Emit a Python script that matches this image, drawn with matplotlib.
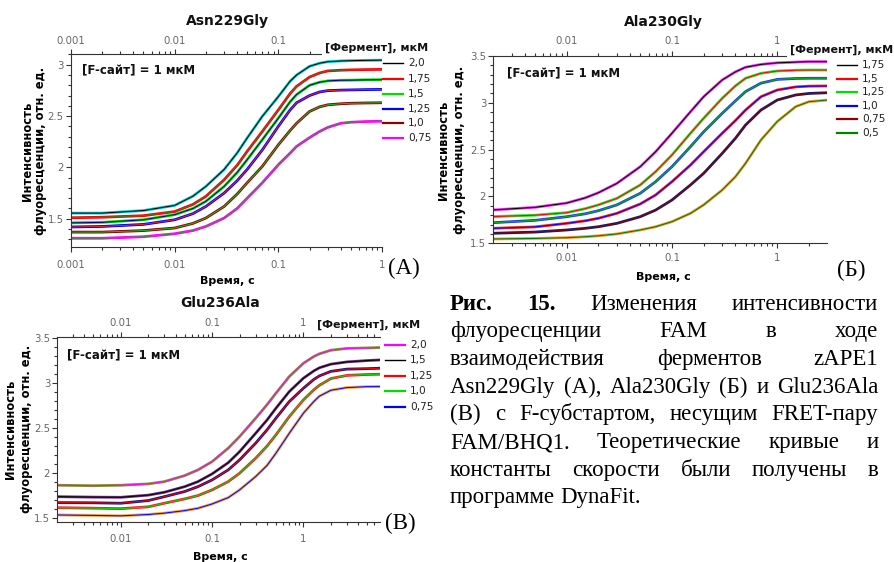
import numpy as np
import matplotlib
matplotlib.use("Agg")
import matplotlib.pyplot as plt
from matplotlib.lines import Line2D
from matplotlib.ticker import (FuncFormatter, MultipleLocator, NullFormatter,
                               LogLocator, FixedLocator)

# ---- panel A: Asn229Gly ----
t_a = [0.001, 0.002, 0.005, 0.01, 0.015, 0.02, 0.03, 0.04, 0.05, 0.07, 0.1,
       0.13, 0.15, 0.2, 0.25, 0.3, 0.4, 0.5, 0.7, 1.0]
a_20 = [1.555, 1.555, 1.58, 1.63, 1.72, 1.815, 1.98, 2.14, 2.286, 2.497, 2.69,
        2.84, 2.90, 2.985, 3.015, 3.03, 3.037, 3.04, 3.043, 3.045]
a_175 = [1.51, 1.515, 1.53, 1.57, 1.64, 1.718, 1.88, 2.02, 2.156, 2.35, 2.56,
         2.72, 2.79, 2.88, 2.92, 2.94, 2.947, 2.95, 2.953, 2.955]
a_15 = [1.46, 1.465, 1.49, 1.54, 1.60, 1.67, 1.815, 1.95, 2.075, 2.27, 2.48,
        2.64, 2.71, 2.80, 2.83, 2.843, 2.849, 2.85, 2.853, 2.855]
a_125 = [1.42, 1.425, 1.445, 1.49, 1.55, 1.62, 1.75, 1.87, 1.98, 2.17, 2.40,
         2.56, 2.63, 2.70, 2.735, 2.748, 2.753, 2.755, 2.758, 2.76]
a_10 = [1.37, 1.37, 1.385, 1.41, 1.455, 1.507, 1.62, 1.74, 1.85, 2.01, 2.22,
        2.36, 2.43, 2.545, 2.59, 2.61, 2.62, 2.625, 2.628, 2.63]
a_075 = [1.31, 1.31, 1.325, 1.354, 1.385, 1.425, 1.507, 1.60, 1.70, 1.85, 2.026,
         2.14, 2.205, 2.29, 2.35, 2.39, 2.43, 2.44, 2.447, 2.45]
labels_a = ["2,0", "1,75", "1,5", "1,25", "1,0", "0,75"]

# ---- panel B: Ala230Gly ----
t_b = [0.002, 0.005, 0.01, 0.015, 0.02, 0.03, 0.05, 0.07, 0.1, 0.15, 0.2, 0.3,
       0.4, 0.5, 0.7, 1.0, 1.5, 2.0, 3.0]
b_175 = [1.856, 1.884, 1.93, 1.985, 2.04, 2.14, 2.318, 2.478, 2.675, 2.905, 3.065,
         3.244, 3.33, 3.38, 3.41, 3.427, 3.435, 3.44, 3.44]
b_15 = [1.785, 1.80, 1.827, 1.87, 1.91, 1.98, 2.123, 2.265, 2.443, 2.675, 2.835,
        3.048, 3.18, 3.262, 3.315, 3.34, 3.348, 3.35, 3.35]
b_125 = [1.72, 1.745, 1.784, 1.815, 1.848, 1.91, 2.034, 2.158, 2.318, 2.532, 2.69,
         2.888, 3.02, 3.12, 3.21, 3.25, 3.26, 3.262, 3.262]
b_10 = [1.66, 1.675, 1.713, 1.74, 1.767, 1.82, 1.92, 2.016, 2.158, 2.336, 2.478,
        2.675, 2.81, 2.923, 3.065, 3.137, 3.17, 3.178, 3.18]
b_075 = [1.607, 1.62, 1.642, 1.66, 1.677, 1.713, 1.784, 1.855, 1.962, 2.123, 2.247,
         2.46, 2.62, 2.763, 2.923, 3.03, 3.084, 3.10, 3.108]
b_05 = [1.546, 1.552, 1.56, 1.57, 1.58, 1.60, 1.642, 1.677, 1.731, 1.82, 1.91,
        2.069, 2.21, 2.354, 2.603, 2.80, 2.96, 3.012, 3.03]
labels_b = ["1,75", "1,5", "1,25", "1,0", "0,75", "0,5"]

# ---- panel C: Glu236Ala ----
t_c = [0.002, 0.005, 0.01, 0.02, 0.03, 0.05, 0.07, 0.1, 0.15, 0.2, 0.3, 0.4, 0.5,
       0.7, 1.0, 1.3, 1.5, 2.0, 3.0, 5.0, 7.0]
c_20 = [1.86, 1.855, 1.86, 1.875, 1.90, 1.967, 2.03, 2.122, 2.271, 2.40, 2.604,
        2.755, 2.882, 3.067, 3.215, 3.29, 3.32, 3.36, 3.38, 3.385, 3.39]
c_15 = [1.733, 1.728, 1.726, 1.75, 1.782, 1.844, 1.90, 1.986, 2.11, 2.233, 2.437,
        2.585, 2.715, 2.90, 3.049, 3.13, 3.165, 3.205, 3.23, 3.245, 3.252]
c_125 = [1.667, 1.665, 1.66, 1.69, 1.733, 1.79, 1.844, 1.919, 2.03, 2.141, 2.327,
         2.475, 2.604, 2.789, 2.937, 3.035, 3.075, 3.125, 3.15, 3.155, 3.16]
c_10 = [1.611, 1.605, 1.60, 1.62, 1.66, 1.708, 1.745, 1.808, 1.90, 1.993, 2.16,
        2.295, 2.419, 2.622, 2.808, 2.92, 2.97, 3.045, 3.08, 3.09, 3.093]
c_075 = [1.53, 1.525, 1.52, 1.535, 1.55, 1.578, 1.604, 1.652, 1.722, 1.808, 1.956,
         2.08, 2.215, 2.437, 2.66, 2.79, 2.85, 2.915, 2.945, 2.955, 2.956]
labels_c = ["2,0", "1,5", "1,25", "1,0", "0,75"]

caption = [
    "Рис. 15. Изменения интенсивности",
    "флуоресценции FAM в ходе",
    "взаимодействия ферментов zAPE1",
    "Asn229Gly (А), Ala230Gly (Б) и Glu236Ala",
    "(В) с F-субстартом, несущим FRET-пару",
    "FAM/BHQ1. Теоретические кривые и",
    "константы скорости были получены в",
    "программе DynaFit.",
]

W, H = 894, 562
fig = plt.figure(figsize=(W / 100, H / 100), dpi=100)
plt.rcParams["font.family"] = "DejaVu Sans"


def fx(x):
    return x / W


def fy(y):
    return 1 - y / H


fmt = FuncFormatter(lambda v, p: f"{v:g}")


def style_x(axis_obj, major=None):
    if major is None:
        axis_obj.set_major_locator(LogLocator(base=10))
    else:
        axis_obj.set_major_locator(FixedLocator(major))
    axis_obj.set_minor_locator(LogLocator(base=10, subs=np.arange(2, 10)))
    axis_obj.set_major_formatter(fmt)
    axis_obj.set_minor_formatter(NullFormatter())


def make_axes(left, top, right, bottom, xlim, ylim, bpad, tpad, top_major=None):
    rect = [fx(left), fy(bottom), (right - left) / W, (bottom - top) / H]
    ax = fig.add_axes(rect)
    ax.set_xscale("log")
    ax.set_xlim(*xlim)
    ax.set_ylim(*ylim)
    ax.spines["right"].set_visible(False)
    ax.spines["top"].set_visible(False)
    for s in ("left", "bottom"):
        ax.spines[s].set_color("#333333")
        ax.spines[s].set_linewidth(0.8)
    style_x(ax.xaxis)
    ax.yaxis.set_major_locator(MultipleLocator(0.5))
    ax.yaxis.set_minor_locator(MultipleLocator(0.1))
    ax.yaxis.set_major_formatter(fmt)
    ax.tick_params(which="both", direction="out", color="#333333",
                   labelcolor="#666666", labelsize=7.3, width=0.8)
    ax.tick_params(which="major", length=3.6)
    ax.tick_params(which="minor", length=2.2)
    ax.tick_params(axis="y", pad=1.6)
    ax.tick_params(axis="x", pad=bpad)

    # top axis with the same time scale
    top_ax = ax.twiny()
    top_ax.set_xscale("log")
    top_ax.set_xlim(*xlim)
    for s in ("left", "right", "bottom"):
        top_ax.spines[s].set_visible(False)
    top_ax.spines["top"].set_color("#333333")
    top_ax.spines["top"].set_linewidth(0.8)
    style_x(top_ax.xaxis, top_major)
    top_ax.tick_params(which="both", direction="out", color="#333333",
                       labelcolor="#666666", labelsize=7.3, width=0.8, pad=tpad)
    top_ax.tick_params(which="major", length=3.6)
    top_ax.tick_params(which="minor", length=2.2)
    return ax


def draw_curves(ax, t, series, thick_colors, thin_colors):
    for vals, c1, c2 in zip(series, thick_colors, thin_colors):
        ax.plot(t, vals, color=c1, lw=2.0, solid_capstyle="butt")
        ax.plot(t, vals, color=c2, lw=0.7)


def draw_legend(tx, ty, x0, x1, lx, ys, labels, colors):
    fig.text(fx(tx), fy(ty), "[Фермент], мкМ", fontsize=8, fontweight="bold",
             ha="left", va="center", color="#111111",
             bbox=dict(facecolor="white", edgecolor="none", pad=2.5), zorder=5)
    for y, lab, c in zip(ys, labels, colors):
        fig.add_artist(Line2D([fx(x0), fx(x1)], [fy(y), fy(y)], color=c,
                              lw=1.0 if c == "black" else 1.6,
                              transform=fig.transFigure))
        fig.text(fx(lx), fy(y), lab, fontsize=7.6, ha="left", va="center",
                 color="#222222")


def labels(ax, title, tx, ty, xl, ylc, ls, note_xy):
    fig.text(fx(tx), fy(ty), title, fontsize=10, fontweight="bold",
             ha="center", va="center", color="#111111")
    ax.set_xlabel("Время, с", fontsize=8, fontweight="bold", va="center")
    ax.xaxis.set_label_coords(fx(xl[0]), fy(xl[1]), transform=fig.transFigure)
    ax.set_ylabel("Интенсивность\nфлуоресценции, отн. ед.", fontsize=8.3,
                  fontweight="bold", va="center", ha="center", linespacing=ls)
    ax.yaxis.set_label_coords(fx(ylc[0]), fy(ylc[1]), transform=fig.transFigure)
    fig.text(fx(note_xy[0]), fy(note_xy[1]), "[F-сайт] = 1 мкМ", fontsize=8.5,
             fontweight="bold", ha="left", va="center", color="#111111")


# Panel A (top label "1" is hidden under the legend title)
ax_a = make_axes(71, 54.5, 382, 247, (0.001, 1.0), (1.225, 3.10), 5.5, 2.4,
                 top_major=[0.001, 0.01, 0.1])
draw_curves(ax_a, t_a, [a_20, a_175, a_15, a_125, a_10, a_075],
            ["#00cccc", "red", "#00dd00", "blue", "#8b0000", "magenta"],
            ["black", "#556b2f", "#000080", "#ee2222", "#22bb22", "#4a8a4a"])
labels(ax_a, "Asn229Gly", 227, 21, (227, 281), (34, 151), 1.0, (82, 70))
draw_legend(325, 48, 383, 403, 408, [63.3, 79, 94, 109, 123.3, 137.7], labels_a,
            ["black", "red", "#00dd00", "blue", "#8b0000", "magenta"])

# Panel B
ax_b = make_axes(493.3, 56, 826.7, 243.3, (0.00201, 2.95), (1.5, 3.5), 3.7, 3.5)
draw_curves(ax_b, t_b, [b_175, b_15, b_125, b_10, b_075, b_05],
            ["#ee33ee", "#33dd33", "#1f3fdd", "#ee2222", "#1a1a66", "#ee9933"],
            ["black", "red", "#00bb00", "blue", "#8b0000", "#007700"])
labels(ax_b, "Ala230Gly", 663, 22, (663, 277), (452, 150), 1.3, (507, 73))
draw_legend(790, 50, 837, 857, 862, [65, 79, 92.3, 105.7, 119, 132.7], labels_b,
            ["black", "red", "#00dd00", "blue", "#8b0000", "#008000"])

# Panel C
ax_c = make_axes(57.3, 336.7, 380, 521.7, (0.00202, 6.9), (1.455, 3.51), 4.9, 2.8)
draw_curves(ax_c, t_c, [c_20, c_15, c_125, c_10, c_075],
            ["#8b8b3a", "#6a2c7a", "#14147a", "#ee2222", "#f0a040"],
            ["magenta", "black", "red", "#00dd00", "blue"])
labels(ax_c, "Glu236Ala", 220, 303, (220, 557), (19, 429), 1.3, (67, 355))
draw_legend(317, 325, 385, 405, 410, [345, 360, 376, 391, 406.7], labels_c,
            ["magenta", "black", "red", "#00dd00", "blue"])

# panel letters
serif = "Liberation Serif"
fig.text(fx(388), fy(268), "(А)", fontsize=16.5, family=serif, va="center")
fig.text(fx(837), fy(270), "(Б)", fontsize=16.5, family=serif, va="center")
fig.text(fx(385), fy(523), "(В)", fontsize=16.5, family=serif, va="center")

# justified caption
renderer = fig.canvas.get_renderer()
cap_left, cap_right = 450, 878.3
for i, line in enumerate(caption):
    y = 309.5 + i * 27.7
    words = line.split(" ")
    texts = []
    for j, w in enumerate(words):
        bold = i == 0 and j < 2
        texts.append(fig.text(0, fy(y), w, fontsize=16.5, family=serif,
                              fontweight="bold" if bold else "normal",
                              va="baseline", ha="left"))
    widths = [t.get_window_extent(renderer).width for t in texts]
    if i == len(caption) - 1:
        gap = 5.5
    else:
        gap = (cap_right - cap_left - sum(widths)) / (len(words) - 1)
    x = cap_left
    for t, w in zip(texts, widths):
        t.set_x(fx(x))
        x += w + gap

fig.savefig("out.png", dpi=100)
